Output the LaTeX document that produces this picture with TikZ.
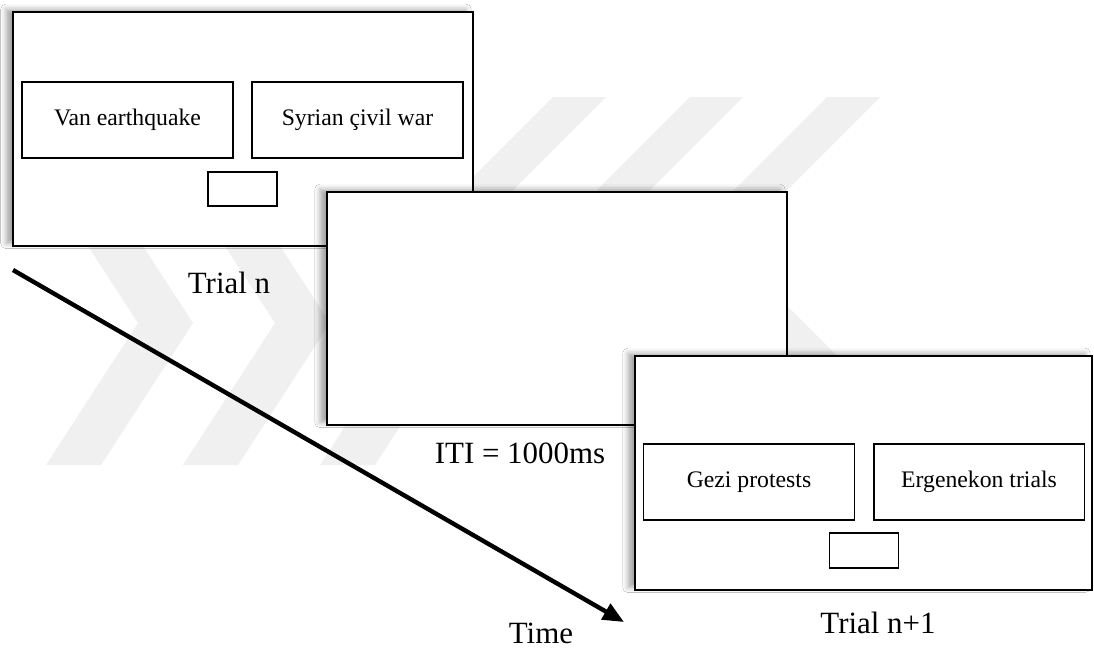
\documentclass[tikz,border=0pt]{standalone}
\usepackage{fontspec}
\setmainfont{Liberation Serif}
\usetikzlibrary{arrows.meta,shadows.blur}

\tikzset{
  screen/.style={draw=black, line width=1.2pt, fill=white, inner sep=0pt,
    blur shadow={shadow xshift=-4pt, shadow yshift=1.5pt, shadow blur radius=3pt, shadow opacity=35}},
  choice/.style={draw=black, line width=1.1pt, fill=white, inner sep=0pt,
    minimum width=4.22cm, minimum height=1.52cm, font=\fontsize{13.5}{16}\selectfont},
  keybox/.style={draw=black, line width=1.1pt, fill=white, inner sep=0pt,
    minimum width=1.38cm, minimum height=0.69cm},
  lbl/.style={inner sep=0pt, anchor=base, font=\fontsize{17.6}{20}\selectfont},
  timeline/.style={line width=2.5pt, -{Triangle[length=12pt, width=10pt]}},
  stripe/.style={fill=black!6, draw=none}
}

\begin{document}
\begin{tikzpicture}[x=0.02cm, y=-0.02cm]
  \useasboundingbox (0,0) rectangle (1094,650);
  \fill[white] (0,0) rectangle (1094,650);

  % faint background stripes
  \foreach \d in {0,137,274}{
    \fill[stripe] ({113+\d},200) -- ({193+\d},323) -- ({101+\d},465)
      -- ({46+\d},465) -- ({138+\d},323) -- ({58+\d},200) -- cycle;
    \fill[stripe] ({553+\d},97) -- ({606+\d},97) -- ({455+\d},248)
      -- ({606+\d},399) -- ({553+\d},399) -- ({402+\d},248) -- cycle;
  }

  % trial n
  \node[screen, minimum width=9.2cm, minimum height=4.68cm] (trialA) at (243,129) {};
  \node[choice] (van) at (127.5,120) {Van earthquake};
  \node[choice] (syria) at (357.5,120) {Syrian çivil war};
  \node[keybox] (keyA) at (242.5,189) {};

  % inter-trial interval
  \node[screen, minimum width=9.2cm, minimum height=4.66cm] (iti) at (557,308.5) {};

  % trial n+1
  \node[screen, minimum width=9.14cm, minimum height=4.68cm] (trialB) at (863.5,473) {};
  \node[choice] (gezi) at (749,482) {Gezi protests};
  \node[choice] (ergen) at (979,482) {Ergenekon trials};
  \node[keybox] (keyB) at (864,550.5) {};

  % labels
  \node[lbl] (lblA) at (229,293) {Trial n};
  \node[lbl] (lblITI) at (520,463) {ITI = 1000ms};
  \node[lbl] (lblB) at (878,633) {Trial n+1};
  \node[lbl] (lblTime) at (541,643) {Time};

  % time axis
  \coordinate (tstart) at (13,270);
  \coordinate (tend) at (624,622);
  \draw[timeline] (tstart) -- (tend);
\end{tikzpicture}
\end{document}
